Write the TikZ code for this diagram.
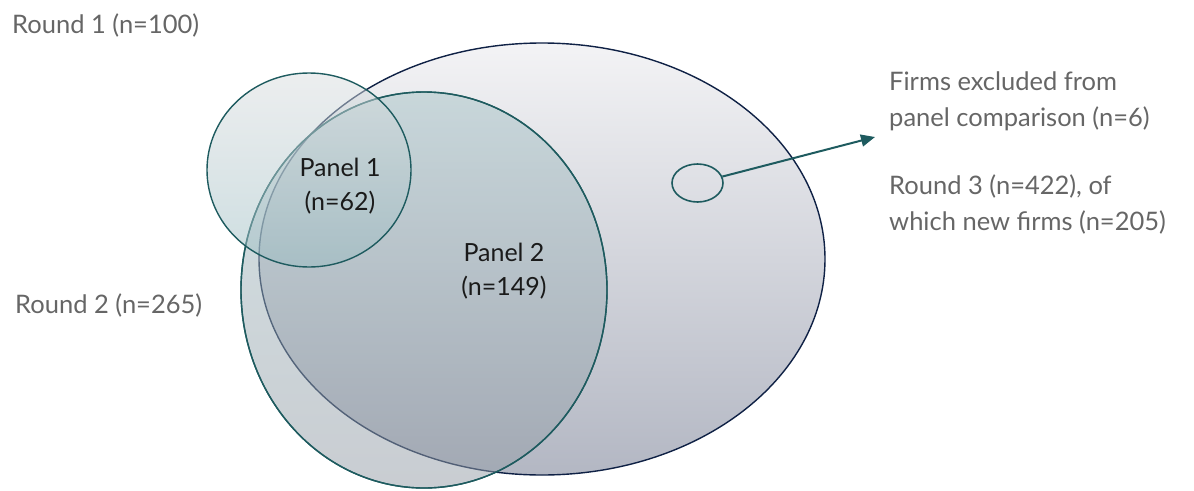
\documentclass[tikz,border=0pt]{standalone}
\usepackage{fontspec}
\setmainfont{Lato}
\usetikzlibrary{shapes.geometric,arrows.meta}
\definecolor{navyline}{HTML}{0F2145}
\definecolor{tealline}{HTML}{1E5B5F}
\definecolor{labelgrey}{HTML}{666666}
\definecolor{txtdark}{HTML}{1A1A1A}
\definecolor{rthreetop}{HTML}{F3F3F5}
\definecolor{rthreebot}{HTML}{B3B7C3}
\definecolor{rtwotop}{HTML}{A6C3C7}
\definecolor{rtwobot}{HTML}{939BA5}
\definecolor{ronetop}{HTML}{DADDDF}
\definecolor{ronebot}{HTML}{9ABCC2}
\tikzset{
  venn/.style={ellipse, inner sep=0pt, line width=1.4pt},
  outlabel/.style={anchor=base west, inner sep=0pt, text=labelgrey, font=\fontsize{25.5}{35.5}\selectfont, align=left},
  inlabel/.style={inner sep=0pt, text=txtdark, font=\fontsize{25}{34}\selectfont, align=center},
  pointer/.style={draw=tealline, line width=2pt, -{Triangle[length=14pt,width=12pt]}}
}
\begin{document}
\begin{tikzpicture}[x=1pt,y=-1pt]
\useasboundingbox (0,0) rectangle (1194,490);
% Round 3 (big ellipse)
\node[venn, draw=navyline, top color=rthreetop, bottom color=rthreebot,
      minimum width=566, minimum height=432] (r3) at (542,259) {};
% Round 2 / Panel 2
\node[venn, draw=tealline, top color=rtwotop, bottom color=rtwobot,
      fill opacity=0.5, minimum width=366, minimum height=396] (r2) at (424,290) {};
\node[venn, draw=tealline, minimum width=366, minimum height=396] (r2o) at (424,290) {};
% Round 1 / Panel 1
\node[venn, top color=ronetop, bottom color=ronebot,
      fill opacity=0.5, minimum width=204, minimum height=194] (r1) at (309,170) {};
\node[venn, draw=tealline, minimum width=204, minimum height=194] (r1o) at (309,170) {};
% excluded firms
\node[venn, draw=tealline, line width=1.6pt, minimum width=51, minimum height=38] (ex) at (697.5,183) {};
\coordinate (tip) at (875,137);
\draw[pointer] (ex) -- (tip);
% labels
\node[outlabel] (l1) at (12,33) {Round 1 (n=100)};
\node[outlabel] (l2) at (15,313) {Round 2 (n=265)};
\node[outlabel] (l3) at (889,126) {Firms excluded from\\panel comparison (n=6)};
\node[outlabel] (l4) at (889,230) {Round 3 (n=422), of\\which new firms (n=205)};
\node[inlabel] (p1) at (340,186) {Panel 1\\(n=62)};
\node[inlabel] (p2) at (504,271) {Panel 2\\(n=149)};
\end{tikzpicture}
\end{document}
